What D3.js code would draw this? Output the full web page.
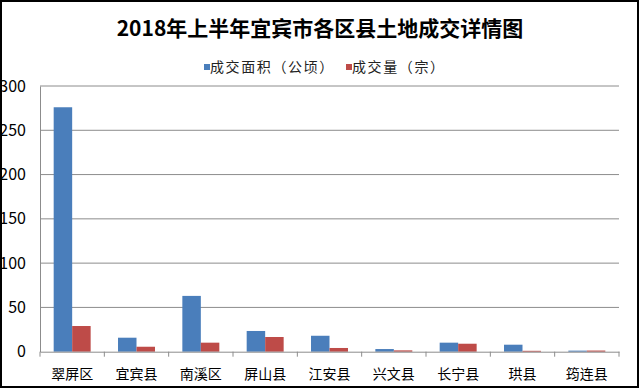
<!DOCTYPE html>
<meta charset="utf-8">
<style>
body { margin: 0; background: #fff; }
text { font-family: "Noto Sans CJK SC", sans-serif; fill: #000; }
</style>
<body>
<script src="https://d3js.org/d3.v7.min.js"></script>
<script>

// chart data
var categories = ["翠屏区", "宜宾县", "南溪区", "屏山县", "江安县", "兴文县", "长宁县", "珙县", "筠连县"];
var area = [276, 15.8, 63, 23.4, 18, 3, 10.2, 7.9, 1.2];
var deals = [29, 5.6, 10.2, 16.6, 4.2, 1.5, 9, 1, 1.3];
var seriesNames = ["成交面积（公顷）", "成交量（宗）"];
var yTicks = [0, 50, 100, 150, 200, 250, 300];

var colors = ["#4a7ebb", "#be4b48"];

var W = 640, H = 389;
var svg = d3.select("body").append("svg")
    .attr("width", W)
    .attr("height", H);

// outer frame
svg.append("rect")
    .attr("x", 1).attr("y", 1)
    .attr("width", W - 3).attr("height", H - 3)
    .attr("fill", "#fff")
    .attr("stroke", "#000")
    .attr("stroke-width", 2);

// plot area
var plot = {left: 40, right: 619, top: 86, bottom: 351.7};
var x = d3.scaleBand().domain(categories).range([plot.left, plot.right]);
var x1 = d3.scaleBand().domain([0, 1]).range([0, x.bandwidth()]).paddingOuter(0.74).paddingInner(0);
var y = d3.scaleLinear().domain([0, 300]).range([plot.bottom, plot.top]);

// title
svg.append("text")
    .attr("x", 320).attr("y", 36)
    .attr("text-anchor", "middle")
    .style("font-size", "21px")
    .style("font-weight", "bold")
    .text("2018年上半年宜宾市各区县土地成交详情图");

// legend
var legendX = [204, 346];
seriesNames.forEach(function(name, i) {
  svg.append("rect")
      .attr("x", legendX[i]).attr("y", 64)
      .attr("width", 6).attr("height", 6)
      .attr("fill", colors[i]);
  svg.append("text")
      .attr("x", legendX[i] + 6).attr("y", 72)
      .style("font-size", "14px")
      .style("letter-spacing", "1.6px")
      .style("fill", "#222")
      .text(name);
});

// gridlines
svg.append("g").selectAll("line")
    .data(yTicks.slice(1))
  .enter().append("line")
    .attr("x1", plot.left).attr("x2", plot.right)
    .attr("y1", function(d) { return y(d); })
    .attr("y2", function(d) { return y(d); })
    .attr("stroke", "#8c8c8c")
    .attr("stroke-width", 1);

// y axis
var yAxis = svg.append("g")
    .attr("transform", "translate(" + plot.left + ",0)")
    .call(d3.axisLeft(y).tickValues(yTicks).tickSize(0).tickPadding(14));
yAxis.select(".domain").attr("stroke", "#8c8c8c");
yAxis.selectAll("text").style("font-size", "16px").style("font-family", "Noto Sans CJK SC");

// bars
var groups = svg.append("g").selectAll("g")
    .data(categories)
  .enter().append("g")
    .attr("transform", function(d) { return "translate(" + x(d) + ",0)"; });

[area, deals].forEach(function(vals, s) {
  groups.append("rect")
      .attr("x", x1(s))
      .attr("width", x1.bandwidth())
      .attr("y", function(d, i) { return y(vals[i]); })
      .attr("height", function(d, i) { return y(0) - y(vals[i]); })
      .attr("fill", colors[s]);
});

// x axis
var xAxis = svg.append("g")
    .attr("transform", "translate(0," + plot.bottom + ")")
    .call(d3.axisBottom(x).tickSize(0).tickPadding(17));
xAxis.select(".domain").attr("stroke", "#8c8c8c");
xAxis.selectAll("text").style("font-size", "14px").style("font-family", "Noto Sans CJK SC");

// category tick marks at band edges
svg.append("g").selectAll("line")
    .data(d3.range(categories.length + 1))
  .enter().append("line")
    .attr("x1", function(i) { return plot.left + i * x.step(); })
    .attr("x2", function(i) { return plot.left + i * x.step(); })
    .attr("y1", plot.bottom).attr("y2", plot.bottom + 5)
    .attr("stroke", "#8c8c8c");

</script>
</body>
